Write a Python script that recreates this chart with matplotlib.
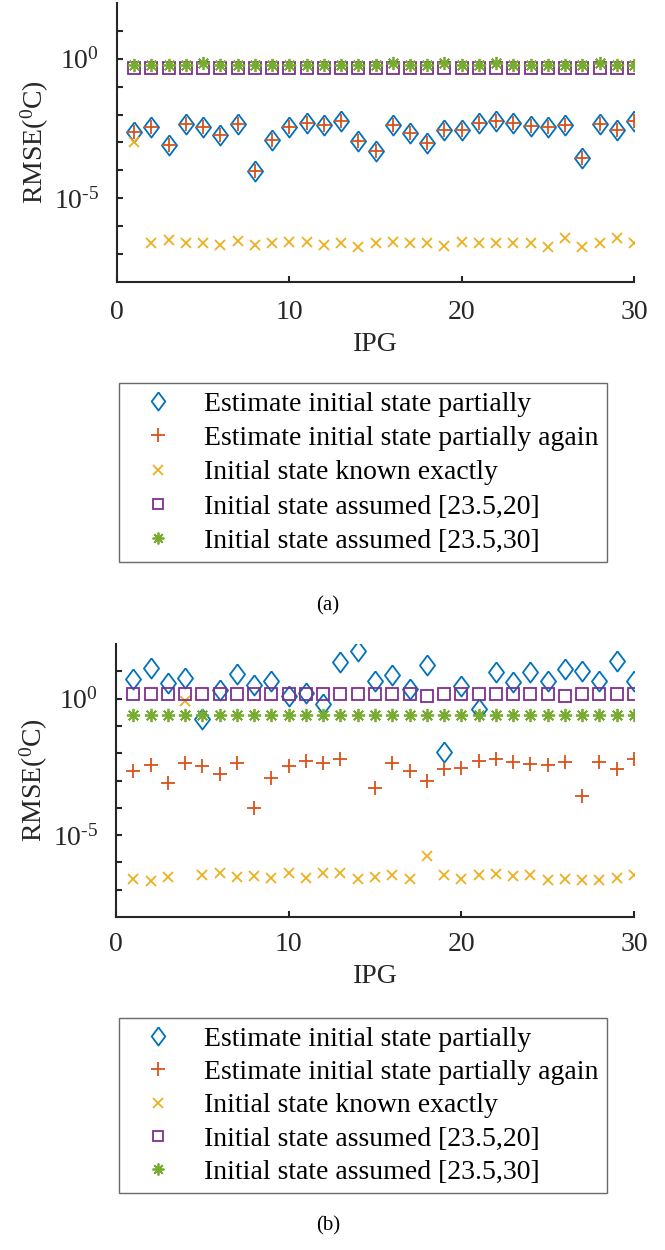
import numpy as np
import matplotlib
matplotlib.use("Agg")
import matplotlib.pyplot as plt
from matplotlib.ticker import FixedLocator, FuncFormatter

plt.rcParams['font.family'] = ['Liberation Serif', 'DejaVu Serif']
plt.rcParams['mathtext.fontset'] = 'custom'
plt.rcParams['mathtext.rm'] = 'Liberation Serif'
plt.rcParams['mathtext.it'] = 'Liberation Serif:italic'

ipg = np.arange(1, 31)

labels = ['Estimate initial state partially',
          'Estimate initial state partially again',
          'Initial state known exactly',
          'Initial state assumed [23.5,20]',
          'Initial state assumed [23.5,30]']

# panel (a)
partial_a = [2.3e-3, 3.7e-3, 8.1e-4, 4.6e-3, 3.5e-3, 1.9e-3, 4.6e-3, 9.8e-5, 1.2e-3, 3.7e-3,
             5.2e-3, 4.2e-3, 5.8e-3, 1.1e-3, 5.1e-4, 4.3e-3, 2.2e-3, 9.5e-4, 2.7e-3, 2.8e-3,
             5.0e-3, 6.0e-3, 4.9e-3, 3.9e-3, 3.7e-3, 4.3e-3, 2.7e-4, 4.6e-3, 2.8e-3, 5.8e-3]
again_a = list(partial_a)
exact_a = [1.0e-3, 2.45e-7, 3.3e-7, 2.6e-7, 2.45e-7, 2.2e-7, 2.95e-7, 2.2e-7, 2.6e-7, 2.75e-7,
           2.75e-7, 2.2e-7, 2.45e-7, 1.8e-7, 2.45e-7, 2.8e-7, 2.45e-7, 2.6e-7, 1.95e-7, 2.8e-7,
           2.45e-7, 2.45e-7, 2.45e-7, 2.45e-7, 1.85e-7, 3.7e-7, 1.8e-7, 2.6e-7, 3.9e-7, 2.6e-7]
assumed20_a = [0.47] * 30
assumed30_a = [0.58, 0.58, 0.58, 0.58, 0.70, 0.58, 0.58, 0.58, 0.58, 0.58,
               0.58, 0.58, 0.58, 0.58, 0.58, 0.70, 0.58, 0.58, 0.70, 0.58,
               0.58, 0.70, 0.58, 0.58, 0.58, 0.58, 0.58, 0.70, 0.58, 0.58]

# panel (b)
partial_b = [5.2, 13.2, 3.7, 5.8, 0.18, 2.0, 8.3, 3.2, 4.6, 1.23,
             1.6, 0.65, 22.0, 55.0, 4.6, 7.6, 2.2, 16.6, 0.011, 2.8,
             0.42, 9.5, 4.0, 9.3, 4.6, 12.6, 10.0, 4.4, 23.0, 4.6]
again_b = [2.3e-3, 3.7e-3, 8.1e-4, 4.4e-3, 3.3e-3, 1.8e-3, 4.4e-3, 9.8e-5, 1.2e-3, 3.3e-3,
           5.0e-3, 4.2e-3, 6.2e-3, np.nan, 5.2e-4, 4.4e-3, 2.3e-3, 9.8e-4, 2.6e-3, 2.9e-3,
           5.0e-3, 6.2e-3, 4.8e-3, 4.0e-3, 3.8e-3, 4.7e-3, 2.8e-4, 4.8e-3, 2.7e-3, 6.3e-3]
exact_b = [2.45e-7, 2.1e-7, 2.8e-7, 0.79, 3.5e-7, 4.1e-7, 3.0e-7, 3.3e-7, 2.6e-7, 4.1e-7,
           2.6e-7, 4.1e-7, 4.1e-7, 2.45e-7, 2.9e-7, 3.5e-7, 2.45e-7, 1.66e-6, 3.5e-7, 2.45e-7,
           3.5e-7, 3.8e-7, 3.2e-7, 3.5e-7, 2.3e-7, 2.45e-7, 2.3e-7, 2.3e-7, 2.6e-7, 3.5e-7]
assumed20_b = [1.44, 1.44, 1.44, 1.44, 1.44, 1.44, 1.44, 1.44, 1.44, 1.44,
               1.44, 1.44, 1.44, 1.44, 1.44, 1.44, 1.44, 1.29, 1.44, 1.44,
               1.44, 1.44, 1.44, 1.44, 1.44, 1.29, 1.44, 1.44, 1.44, 1.44]
assumed30_b = [0.25] * 30

colors = ['#0072BD', '#D95319', '#EDB120', '#7E2F8E', '#77AC30']
diamond = [(0, 1), (0.75, 0), (0, -1), (-0.75, 0), (0, 1)]
styles = [dict(marker=diamond, ms=14.5),
          dict(marker='+', ms=10.5),
          dict(marker='x', ms=7.5),
          dict(marker='s', ms=8.5),
          dict(marker=(8, 2, 0), ms=9.5)]


def log_fmt(v, pos):
    e = int(round(np.log10(v)))
    if e in (0, -5):
        return '$\\mathregular{10^{%s}}$' % ('0' if e == 0 else '\\text{-}5')
    return ''


def draw_panel(fig, rect, series, caption, leg_y, cap_y, xpad, xlpad, lspace):
    ax = fig.add_axes(rect)
    for vals, col, st, lab in zip(series, colors, styles, labels):
        ax.plot(ipg, vals, ls='none', color=col, mfc='none', mew=1.3,
                label=lab, **st)
    ax.set_yscale('log')
    ax.set_ylim(1e-8, 1e2)
    ax.set_xlim(0, 30)
    ax.set_xticks([0, 10, 20, 30])
    ax.yaxis.set_major_locator(FixedLocator([10.0 ** k for k in range(-7, 2)]))
    ax.yaxis.set_minor_locator(FixedLocator([]))
    ax.yaxis.set_major_formatter(FuncFormatter(log_fmt))
    for s in ['top', 'right']:
        ax.spines[s].set_visible(False)
    for s in ['left', 'bottom']:
        ax.spines[s].set_linewidth(1.5)
        ax.spines[s].set_color('#262626')
    ax.tick_params(direction='in', length=4, width=1.5, colors='#262626',
                   labelsize=20, labelcolor='#262626')
    ax.tick_params(axis='x', pad=xpad)
    ax.tick_params(axis='y', pad=13)
    ax.set_xlabel('IPG', fontsize=20, labelpad=xlpad, color='#262626')
    ax.set_ylabel(r'RMSE($\mathregular{^{0}}$C)', fontsize=20, labelpad=2,
                  color='#262626')
    leg = ax.legend(loc='upper left', bbox_to_anchor=(119 / 665, leg_y),
                    bbox_transform=fig.transFigure, fontsize=20,
                    frameon=True, fancybox=False, edgecolor='#444444',
                    borderpad=0.3, labelspacing=lspace, handlelength=2.2,
                    handletextpad=0.55, borderaxespad=0, markerscale=0.9)
    leg.get_frame().set_linewidth(1.0)
    fig.text(328 / 665, cap_y, caption, ha='center', va='center', fontsize=15)
    return ax


fig = plt.figure(figsize=(6.65, 12.5), dpi=100)

draw_panel(fig, [117 / 665, 1 - 282 / 1250, 517 / 665, 279 / 1250],
           [partial_a, again_a, exact_a, assumed20_a, assumed30_a],
           '(a)', 1 - 383 / 1250, 1 - 606 / 1250, 13, 5, 0.32)
draw_panel(fig, [116 / 665, 1 - 917 / 1250, 518 / 665, 273 / 1250],
           [partial_b, again_b, exact_b, assumed20_b, assumed30_b],
           '(b)', 1 - 1018 / 1250, 1 - 1226 / 1250, 11, 5, 0.28)

fig.savefig('out.png', dpi=100)
